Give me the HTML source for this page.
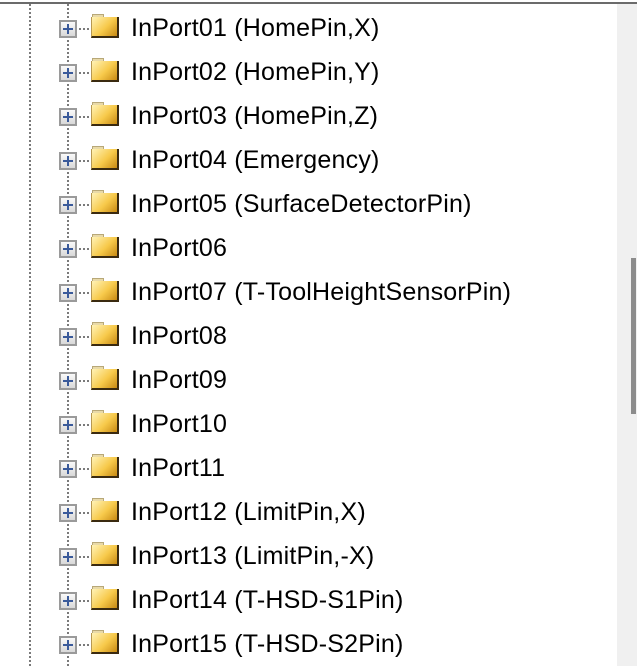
<!DOCTYPE html>
<html><head><meta charset="utf-8"><style>
html,body{margin:0;padding:0;background:#fff;width:637px;height:666px;overflow:hidden;position:relative;font-family:"Liberation Sans",sans-serif}
.top{position:absolute;left:0;top:2px;width:637px;height:2px;background:#6b6b6b}
.sb{position:absolute;left:617px;top:4px;width:20px;height:662px;background:#f0f0f0}
.th{position:absolute;left:14px;top:254px;width:5px;height:156px;background:#8c8c8c}
.vl{position:absolute;top:4px;width:2px;height:662px;background:repeating-linear-gradient(to bottom,#7a7a7a 0 2px,transparent 2px 4px)}
.row{position:absolute;left:0;height:44px;width:617px}
.pb{position:absolute;left:59px;top:20px;width:14px;height:14px;border:2px solid #9a9a9a;background:linear-gradient(#fafafa,#d8d8d8)}
.pb:before{content:"";position:absolute;left:2px;top:6px;width:10px;height:2px;background:#3a5a9a}
.pb:after{content:"";position:absolute;left:6px;top:2px;width:2px;height:10px;background:#3a5a9a}
.hd{position:absolute;left:79px;top:28px;width:10px;height:2px;background:repeating-linear-gradient(to right,#7a7a7a 0 2px,transparent 2px 4px)}
.fd{position:absolute;left:91px;top:17px;width:28px;height:21px;background:linear-gradient(135deg,#fff3b8,#f7c94a 55%,#c88a14);border-right:2px solid #3a2a10;border-bottom:2px solid #3a2a10;border-left:1px solid #b89850;box-sizing:border-box}
.tab{position:absolute;left:92px;top:14px;width:10px;height:3px;background:#e8d9a8;border:1px solid #b8a878;border-bottom:none}
.tx{position:absolute;left:131px;top:15px;font-size:25px;line-height:26px;letter-spacing:0.2px;color:#000;white-space:nowrap}
</style></head><body>
<div class="top"></div>
<div class="vl" style="left:29px"></div>
<div class="vl" style="left:67px"></div>
<div class="sb"><div class="th"></div></div>
<div class="row" style="top:0"><div class="pb"></div><div class="hd"></div><div class="tab"></div><div class="fd"></div><div class="tx">InPort01 (HomePin,X)</div></div>
<div class="row" style="top:44px"><div class="pb"></div><div class="hd"></div><div class="tab"></div><div class="fd"></div><div class="tx">InPort02 (HomePin,Y)</div></div>
<div class="row" style="top:88px"><div class="pb"></div><div class="hd"></div><div class="tab"></div><div class="fd"></div><div class="tx">InPort03 (HomePin,Z)</div></div>
<div class="row" style="top:132px"><div class="pb"></div><div class="hd"></div><div class="tab"></div><div class="fd"></div><div class="tx">InPort04 (Emergency)</div></div>
<div class="row" style="top:176px"><div class="pb"></div><div class="hd"></div><div class="tab"></div><div class="fd"></div><div class="tx">InPort05 (SurfaceDetectorPin)</div></div>
<div class="row" style="top:220px"><div class="pb"></div><div class="hd"></div><div class="tab"></div><div class="fd"></div><div class="tx">InPort06</div></div>
<div class="row" style="top:264px"><div class="pb"></div><div class="hd"></div><div class="tab"></div><div class="fd"></div><div class="tx">InPort07 (T-ToolHeightSensorPin)</div></div>
<div class="row" style="top:308px"><div class="pb"></div><div class="hd"></div><div class="tab"></div><div class="fd"></div><div class="tx">InPort08</div></div>
<div class="row" style="top:352px"><div class="pb"></div><div class="hd"></div><div class="tab"></div><div class="fd"></div><div class="tx">InPort09</div></div>
<div class="row" style="top:396px"><div class="pb"></div><div class="hd"></div><div class="tab"></div><div class="fd"></div><div class="tx">InPort10</div></div>
<div class="row" style="top:440px"><div class="pb"></div><div class="hd"></div><div class="tab"></div><div class="fd"></div><div class="tx">InPort11</div></div>
<div class="row" style="top:484px"><div class="pb"></div><div class="hd"></div><div class="tab"></div><div class="fd"></div><div class="tx">InPort12 (LimitPin,X)</div></div>
<div class="row" style="top:528px"><div class="pb"></div><div class="hd"></div><div class="tab"></div><div class="fd"></div><div class="tx">InPort13 (LimitPin,-X)</div></div>
<div class="row" style="top:572px"><div class="pb"></div><div class="hd"></div><div class="tab"></div><div class="fd"></div><div class="tx">InPort14 (T-HSD-S1Pin)</div></div>
<div class="row" style="top:616px"><div class="pb"></div><div class="hd"></div><div class="tab"></div><div class="fd"></div><div class="tx">InPort15 (T-HSD-S2Pin)</div></div>
</body></html>
